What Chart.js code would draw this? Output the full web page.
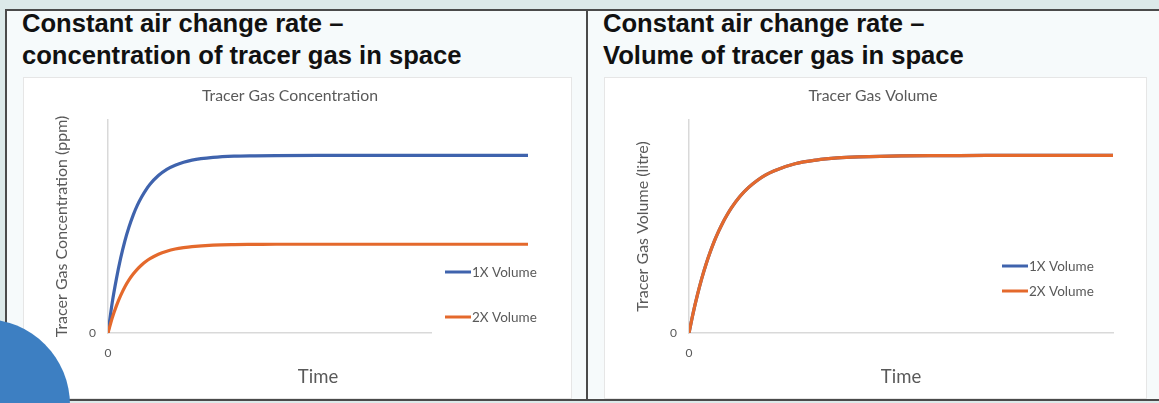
<!DOCTYPE html>
<html>
<head>
<meta charset="utf-8">
<script src="https://cdn.jsdelivr.net/npm/chart.js@4/dist/chart.umd.min.js"></script>
<style>
  html, body { margin: 0; padding: 0; }
  body { width: 1159px; height: 403px; background: #dce9e9; position: relative; overflow: hidden; }
  .panel { position: absolute; top: 9px; height: 388px; border: 2px solid #4a4a4a; background: #f6fafb; }
  #panelA { left: 5px; width: 579px; }
  #panelB { left: 586px; width: 580px; }
  .heading { position: absolute; left: 15px; top: -4px; font: bold 25.6px "Liberation Sans", Arial, sans-serif; line-height: 32px; color: #111; white-space: nowrap; }
  .box { position: absolute; background: #fff; border: 1px solid #e6e6e6; }
  #boxA { left: 23px; top: 77px; width: 547px; height: 320px; }
  #boxB { left: 604px; top: 77px; width: 541px; height: 320px; }
  .box canvas { position: absolute; left: 0; top: 0; }
  #dot { position: absolute; left: -102px; top: 319px; width: 172px; height: 172px; border-radius: 50%; background: #3d7fc2; }
</style>
</head>
<body>
<div class="panel" id="panelA"><div class="heading">Constant air change rate –<br>concentration of tracer gas in space</div></div>
<div class="panel" id="panelB"><div class="heading">Constant air change rate –<br>Volume of tracer gas in space</div></div>
<div class="box" id="boxA"><canvas id="chartA" width="547" height="320"></canvas></div>
<div class="box" id="boxB"><canvas id="chartB" width="541" height="320"></canvas></div>
<div id="dot"></div>
<script>
// Time samples (arbitrary units) shared by both charts
const timeSteps = [0, 1, 2, 3, 4, 5, 6, 7, 8, 9, 10, 12, 14, 16, 18, 20, 25, 30, 35, 40, 50, 60, 70, 80, 90, 100];

// Concentration in the space (relative ppm)
const conc1X = [0, 17, 30.5, 42, 51.7, 59.7, 66.4, 72, 76.6, 80.5, 83.8, 88.7, 92.2, 94.5, 96.2, 97.4, 98.9, 99.6, 99.8, 99.9, 100, 100, 100, 100, 100, 100];
const conc2X = [0, 8.5, 15.3, 21, 25.9, 29.9, 33.2, 36, 38.3, 40.3, 41.9, 44.4, 46.1, 47.3, 48.1, 48.7, 49.5, 49.8, 49.9, 50, 50, 50, 50, 50, 50, 50];

// Volume of tracer gas in the space (relative litres) – both room sizes give the same curve
const vol1X = [0, 11.5, 21.6, 30.6, 38.6, 45.6, 51.9, 57.4, 62.3, 66.6, 70.5, 76.9, 81.9, 85.8, 88.9, 91.3, 95.3, 97.4, 98.6, 99.2, 99.8, 99.9, 100, 100, 100, 100];
const vol2X = [0, 11.5, 21.6, 30.6, 38.6, 45.6, 51.9, 57.4, 62.3, 66.6, 70.5, 76.9, 81.9, 85.8, 88.9, 91.3, 95.3, 97.4, 98.6, 99.2, 99.8, 99.9, 100, 100, 100, 100];

const seriesLabels = ['1X Volume', '2X Volume'];
const yTickLabels = ['0'];
const xTickLabels = ['0'];

const BLUE = '#3f63ad';
const ORANGE = '#e4692c';
const GREY = '#595959';
const FONT = 'Lato, "Open Sans", sans-serif';

const toPoints = (vals) => vals.map((v, i) => ({ x: timeSteps[i], y: v }));

// Legend drawn on top of the plot with an opaque white box, as in spreadsheet charts
const boxedLegend = {
  id: 'boxedLegend',
  afterDraw(chart, args, opts) {
    const ctx = chart.ctx;
    ctx.save();
    ctx.fillStyle = '#ffffff';
    ctx.fillRect(opts.box[0], opts.box[1], opts.box[2], opts.box[3]);
    ctx.font = '13.5px ' + FONT;
    ctx.textBaseline = 'middle';
    chart.data.datasets.forEach((ds, i) => {
      const y = opts.y + i * opts.gap;
      ctx.strokeStyle = ds.borderColor;
      ctx.lineWidth = 3;
      ctx.beginPath();
      ctx.moveTo(opts.x, y);
      ctx.lineTo(opts.x + 26, y);
      ctx.stroke();
      ctx.fillStyle = GREY;
      ctx.fillText(ds.label, opts.x + 27, y + 1);
    });
    ctx.restore();
  }
};

function makeChart(id, title, yTitle, s1, s2, layout, legend) {
  return new Chart(document.getElementById(id), {
    type: 'line',
    data: {
      datasets: [
        { label: seriesLabels[0], data: toPoints(s1), borderColor: BLUE, borderWidth: 3.2, pointRadius: 0, cubicInterpolationMode: 'monotone', fill: false, order: 1 },
        { label: seriesLabels[1], data: toPoints(s2), borderColor: ORANGE, borderWidth: 3.2, pointRadius: 0, cubicInterpolationMode: 'monotone', fill: false, order: 0 }
      ]
    },
    options: {
      responsive: false,
      animation: false,
      devicePixelRatio: 1,
      layout: { padding: layout.padding },
      plugins: {
        legend: { display: false },
        tooltip: { enabled: false },
        title: { display: true, text: title, color: GREY, font: { family: FONT, size: 15.8, weight: 'normal' }, padding: { top: 8, bottom: 15 } },
        boxedLegend: legend
      },
      scales: {
        x: {
          type: 'linear', min: 0, max: 100,
          grid: { display: false, drawTicks: false },
          border: { display: true, color: '#d9d9d9', width: 1.5 },
          ticks: { stepSize: 100, color: GREY, font: { family: FONT, size: 12 }, padding: 13, maxRotation: 0,
                   callback: (v, i) => xTickLabels[i] || '' },
          title: { display: true, text: 'Time', color: GREY, font: { family: FONT, size: 18.5 }, padding: { top: 0, bottom: 10 } },
          afterFit: (s) => { s.height = layout.xh; }
        },
        y: {
          min: 0, max: 120,
          grid: { display: false, drawTicks: false },
          border: { display: true, color: '#d9d9d9', width: 1.5 },
          ticks: { stepSize: 120, color: GREY, font: { family: FONT, size: 12 }, padding: 12,
                   callback: (v, i) => yTickLabels[i] || '' },
          title: { display: true, text: yTitle, color: GREY, font: { family: FONT, size: layout.ys }, padding: { top: 0, bottom: 0 } },
          afterFit: (s) => { s.width = layout.yw; }
        }
      }
    },
    plugins: [boxedLegend]
  });
}

makeChart('chartA', 'Tracer Gas Concentration', 'Tracer Gas Concentration (ppm)', conc1X, conc2X,
  { padding: { left: 28, right: 43, top: 0, bottom: 0 }, yw: 56, xh: 65, ys: 16 },
  { box: [408, 178, 112, 84], x: 421, y: 194, gap: 45 });

makeChart('chartB', 'Tracer Gas Volume', 'Tracer Gas Volume (litre)', vol1X, vol2X,
  { padding: { left: 28, right: 33, top: 0, bottom: 0 }, yw: 56, xh: 65, ys: 16 },
  { box: [386, 172, 112, 50], x: 397, y: 188, gap: 25 });
</script>
</body>
</html>
